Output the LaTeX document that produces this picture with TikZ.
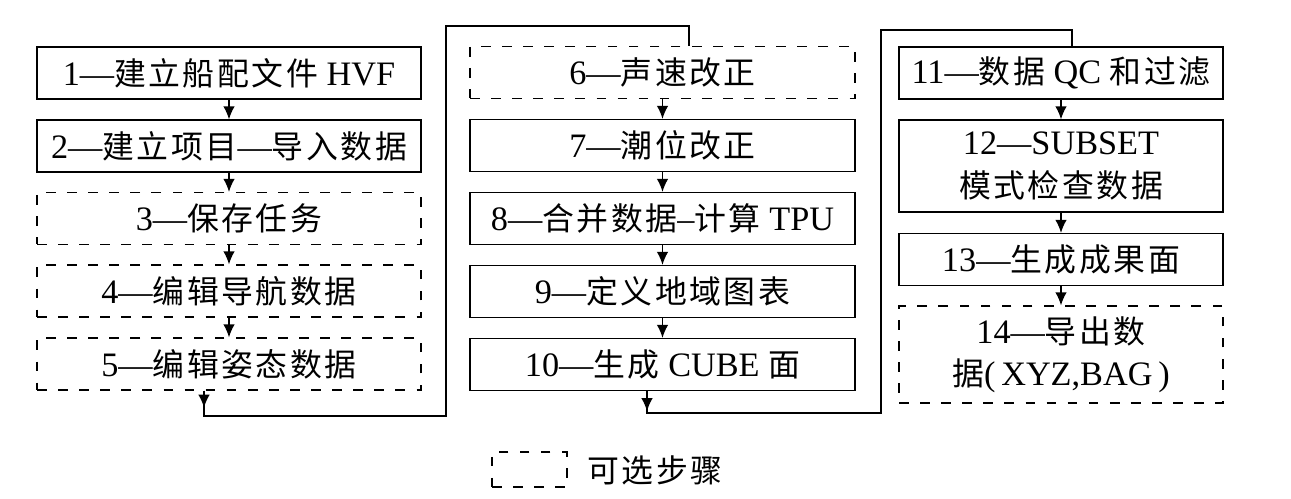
\documentclass[tikz,border=0pt]{standalone}
\usepackage{fontspec}
\setmainfont{Liberation Serif}
\newfontfamily\cjkfont[LetterSpace=8,Scale=0.93]{Noto Sans CJK SC}
\newcommand{\zh}[1]{{\cjkfont #1}}
\usetikzlibrary{arrows.meta}

\begin{document}
\begin{tikzpicture}[x=0.02cm,y=-0.02cm,
  stepbox/.style={draw,line width=0.75pt,inner sep=0pt,align=center,minimum height=1.04cm,font=\fontsize{19.5}{24}\selectfont},
  optbox/.style={stepbox,dash pattern=on 5.5pt off 6.5pt},
  flow/.style={line width=0.75pt,-{Latex[length=2.6mm,width=2.3mm]}},
  link/.style={line width=0.75pt}]
\useasboundingbox (0,0) rectangle (1291,499);
\node[stepbox,minimum width=7.68cm] (s1) at (229,73) {1—\zh{建立船配文件} HVF};
\node[stepbox,minimum width=7.68cm] (s2) at (229,146) {2—\zh{建立项目}—\zh{导入数据}};
\node[optbox,minimum width=7.68cm] (s3) at (229,218.5) {3—\zh{保存任务}};
\node[optbox,minimum width=7.68cm] (s4) at (229,291) {4—\zh{编辑导航数据}};
\node[optbox,minimum width=7.68cm] (s5) at (229,364) {5—\zh{编辑姿态数据}};
\node[optbox,minimum width=7.7cm] (s6) at (662.5,72.5) {6—\zh{声速改正}};
\node[stepbox,minimum width=7.7cm] (s7) at (662.5,145.5) {7—\zh{潮位改正}};
\node[stepbox,minimum width=7.7cm] (s8) at (662.5,218.5) {8—\zh{合并数据}–\zh{计算} TPU};
\node[stepbox,minimum width=7.7cm] (s9) at (662.5,291.5) {9—\zh{定义地域图表}};
\node[stepbox,minimum width=7.7cm] (s10) at (662.5,364.5) {10—\zh{生成} CUBE \zh{面}};
\node[stepbox,minimum width=6.48cm] (s11) at (1061,73) {11—\zh{数据} QC \zh{和过滤}};
\node[stepbox,minimum width=6.48cm,minimum height=1.84cm] (s12) at (1061,166) {12—SUBSET\\\zh{模式检查数据}};
\node[stepbox,minimum width=6.48cm] (s13) at (1061,259.5) {13—\zh{生成成果面}};
\node[optbox,minimum width=6.48cm,minimum height=1.94cm] (s14) at (1061,354.5) {14—\zh{导出数}\\\zh{据}(\,XYZ,BAG\,)};
\draw[flow] (s1) -- (s2);
\draw[flow] (s2) -- (s3);
\draw[flow] (s3) -- (s4);
\draw[flow] (s4) -- (s5);
\draw[flow] (s6) -- (s7);
\draw[flow] (s7) -- (s8);
\draw[flow] (s8) -- (s9);
\draw[flow] (s9) -- (s10);
\draw[flow] (s11) -- (s12);
\draw[flow] (s12) -- (s13);
\draw[flow] (s13) -- (s14);
\coordinate (j1) at (204,416);
\coordinate (j2) at (446,416);
\coordinate (j3) at (446,26);
\coordinate (j4) at (689,26);
\draw[link] (s5.south -| j1) -- (j1) -- (j2) -- (j3) -- (j4) -- (j4 |- s6.north);
\draw[flow] (s5.south -| j1) -- ++(0,17);
\coordinate (k1) at (647,413);
\coordinate (k2) at (881,413);
\coordinate (k3) at (881,30);
\coordinate (k4) at (1072,30);
\draw[link] (s10.south -| k1) -- (k1) -- (k2) -- (k3) -- (k4) -- (k4 |- s11.north);
\draw[flow] (s10.south -| k1) -- ++(0,20);
\node[optbox,minimum width=1.5cm,minimum height=0.7cm] (key) at (529.5,469.5) {};
\node[font=\fontsize{19.5}{24}\selectfont] (keytext) at (655,470) {\zh{可选步骤}};
\end{tikzpicture}
\end{document}
